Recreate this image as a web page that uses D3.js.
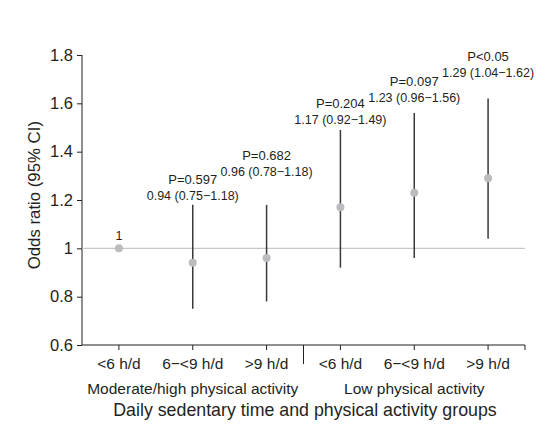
<!DOCTYPE html>
<html><head><meta charset="utf-8">
<script src="https://cdn.jsdelivr.net/npm/d3@7"></script>
<style>body{margin:0;background:#fff}svg{display:block}text{font-family:"Liberation Sans",Arial,sans-serif;fill:#231f20}</style>
</head><body><svg id="c" width="547" height="431"></svg>
<script>
const categories = ["<6 h/d","6\u2212<9 h/d",">9 h/d","<6 h/d","6\u2212<9 h/d",">9 h/d"];
const groups = ["Moderate/high physical activity","Low physical activity"];
const oddsRatio = [1, 0.94, 0.96, 1.17, 1.23, 1.29];
const ciLower = [null, 0.75, 0.78, 0.92, 0.96, 1.04];
const ciUpper = [null, 1.18, 1.18, 1.49, 1.56, 1.62];
const pLabels = ["", "P=0.597", "P=0.682", "P=0.204", "P=0.097", "P<0.05"];
const orLabels = ["1", "0.94 (0.75\u22121.18)", "0.96 (0.78\u22121.18)", "1.17 (0.92\u22121.49)", "1.23 (0.96\u22121.56)", "1.29 (1.04\u22121.62)"];
const labelAt = [1.035, 1.20, 1.30, 1.515, 1.605, 1.71];
const yTicks = [0.6, 0.8, 1, 1.2, 1.4, 1.6, 1.8];

const svg = d3.select("#c");
const x = d3.scaleBand().domain(d3.range(6)).range([82, 525]);
const y = d3.scaleLinear().domain([0.6, 1.8]).range([345, 55]);

// y axis
const ya = svg.append("g").attr("transform","translate(82,0)")
  .call(d3.axisLeft(y).tickValues(yTicks).tickFormat(d3.format("")).tickSize(5).tickPadding(4));
ya.select(".domain").attr("stroke","#231f20").attr("d","M0,55V345");
ya.selectAll(".tick line").attr("stroke","#231f20");
ya.selectAll(".tick text").style("font-size","16.5px").attr("fill","#231f20");

// x axis
const xa = svg.append("g").attr("transform","translate(0,345)")
  .call(d3.axisBottom(x).tickFormat(i=>categories[i]).tickSize(5).tickPadding(8));
xa.select(".domain").attr("stroke","#231f20").attr("d","M82,0H525V5");
xa.selectAll(".tick line").attr("stroke","#231f20");
xa.selectAll(".tick text").style("font-size","15.5px").attr("fill","#231f20");
// separator
const sepX = x(3);
svg.append("line").attr("x1",sepX).attr("x2",sepX).attr("y1",345).attr("y2",364).attr("stroke","#231f20");

// group labels
svg.selectAll(".grp").data(groups).join("text").attr("class","grp")
  .attr("x",(d,i)=> (x(i*3) + x(i*3+2) + x.bandwidth())/2)
  .attr("y",394).attr("text-anchor","middle").style("font-size","15.5px").text(d=>d);

// titles
svg.append("text").attr("x",305).attr("y",416).attr("text-anchor","middle")
  .style("font-size","17.8px").text("Daily sedentary time and physical activity groups");
svg.append("text").attr("transform",`translate(40,${y(1.22)}) rotate(-90)`).attr("text-anchor","middle")
  .style("font-size","16.8px").text("Odds ratio (95% CI)");

// reference line
svg.append("line").attr("x1",82).attr("x2",525).attr("y1",y(1)).attr("y2",y(1)).attr("stroke","#c6c6c6").attr("stroke-width",1.2);

const cx = i => x(i) + x.bandwidth()/2;
const idx = d3.range(6);
// CI lines
svg.selectAll(".ci").data(idx.filter(i=>ciLower[i]!==null)).join("line").attr("class","ci")
  .attr("x1",cx).attr("x2",cx).attr("y1",i=>y(ciLower[i])).attr("y2",i=>y(ciUpper[i]))
  .attr("stroke","#3a3a3a").attr("stroke-width",1.5);
// points
svg.selectAll(".pt").data(idx).join("circle").attr("class","pt")
  .attr("cx",cx).attr("cy",i=>y(oddsRatio[i])).attr("r",4).attr("fill","#bcbcc0");
// labels
svg.selectAll(".orl").data(idx).join("text").attr("class","orl")
  .attr("x",cx).attr("y",i=>y(labelAt[i])).attr("text-anchor","middle").style("font-size","12.5px").text(i=>orLabels[i]);
svg.selectAll(".pl").data(idx.filter(i=>pLabels[i])).join("text").attr("class","pl")
  .attr("x",cx).attr("y",i=>y(labelAt[i]) - 16).attr("text-anchor","middle").style("font-size","13px").text(i=>pLabels[i]);
</script></body></html>
